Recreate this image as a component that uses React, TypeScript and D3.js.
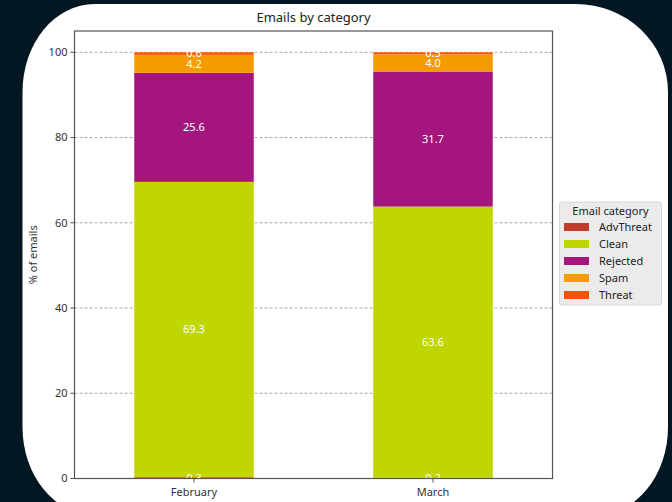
import React from "react";
import * as d3 from "d3";

const months = ["February", "March"];
const categories = ["AdvThreat", "Clean", "Rejected", "Spam", "Threat"];
const advThreat = [0.3, 0.2];
const clean = [69.3, 63.6];
const rejected = [25.6, 31.7];
const spam = [4.2, 4.0];
const threat = [0.6, 0.5];
const yTicks = [0, 20, 40, 60, 80, 100];
const colors = ["#c23b2a", "#bfd600", "#a5157e", "#f59b00", "#ff5200"];

const seriesValues = [advThreat, clean, rejected, spam, threat];

export default function App() {
  const W = 672, H = 502;
  const left = 74.5, right = 552.5, top = 31, bottom = 478.5;
  const font = "'Noto Sans', 'Open Sans', sans-serif";

  const x = d3.scaleLinear().domain([-0.5, 1.5]).range([left, right]);
  const y = d3.scaleLinear().domain([0, 105]).range([bottom, top]);
  const barW = 0.5;

  const rows = months.map((m, i) => {
    const r: any = { month: m };
    categories.forEach((c, k) => (r[c] = seriesValues[k][i]));
    return r;
  });
  const stack = d3.stack<any>().keys(categories)(rows);

  // rounded panel path
  const px0 = 22.5, px1 = 668, py0 = 4, py1 = 515;
  const rx = 72, ry = 88;
  const panel = `M${px0 + rx},${py0} L${px1 - rx - 20},${py0} A${rx + 20},${ry} 0 0 1 ${px1},${py0 + ry} L${px1},${py1 - ry} A${rx},${ry} 0 0 1 ${px1 - rx},${py1} L${px0 + rx},${py1} A${rx},${ry} 0 0 1 ${px0},${py1 - ry} L${px0},${py0 + ry} A${rx},${ry} 0 0 1 ${px0 + rx},${py0} Z`;

  return (
    <svg width={W} height={H} style={{ position: "absolute", left: 0, top: 0, display: "block" }} fontFamily={font}>
      <rect x={0} y={0} width={W} height={H} fill="#031722" />
      <path d={panel} fill="#ffffff" />
      <text x={(left + right) / 2} y={22} textAnchor="middle" fontSize={13} fill="#222">
        Emails by category
      </text>
      {/* grid */}
      {yTicks.map((t) => (
        <line key={"g" + t} x1={left} x2={right} y1={y(t)} y2={y(t)} stroke="#aaaaaa" strokeWidth={1} strokeDasharray="3,2" />
      ))}
      {/* bars */}
      {stack.map((s, k) =>
        s.map((d, i) => (
          <rect
            key={`${k}-${i}`}
            x={x(i - barW / 2)}
            width={x(barW) - x(0)}
            y={y(d[1])}
            height={y(d[0]) - y(d[1])}
            fill={colors[k]}
          />
        ))
      )}
      {/* bar labels */}
      {stack.map((s, k) =>
        s.map((d, i) => (
          <text
            key={`t${k}-${i}`}
            x={x(i)}
            y={y((d[0] + d[1]) / 2)}
            dy="0.35em"
            textAnchor="middle"
            fontSize={11}
            fill="#ffffff"
          >
            {seriesValues[k][i].toFixed(1)}
          </text>
        ))
      )}
      {/* frame */}
      <rect x={left} y={top} width={right - left} height={bottom - top} fill="none" stroke="#555" strokeWidth={1.2} />
      {/* y ticks */}
      {yTicks.map((t) => (
        <g key={"y" + t}>
          <line x1={left - 4} x2={left} y1={y(t)} y2={y(t)} stroke="#555" />
          <text x={left - 7} y={y(t)} dy="0.35em" textAnchor="end" fontSize={11} fill="#333">
            {t}
          </text>
        </g>
      ))}
      {/* x ticks */}
      {months.map((m, i) => (
        <g key={m}>
          <line x1={x(i)} x2={x(i)} y1={bottom} y2={bottom + 4} stroke="#555" />
          <text x={x(i)} y={bottom + 17} textAnchor="middle" fontSize={11} fill="#333">
            {m}
          </text>
        </g>
      ))}
      <text transform={`translate(37,${(top + bottom) / 2}) rotate(-90)`} textAnchor="middle" fontSize={11} fill="#333">
        % of emails
      </text>
      {/* legend */}
      <g>
        <rect x={559.5} y={202} width={102} height={103} rx={2} fill="#ebebeb" stroke="#d6d6d6" />
        <text x={610.5} y={215} textAnchor="middle" fontSize={11} fill="#222">
          Email category
        </text>
        {categories.map((c, k) => (
          <g key={c}>
            <rect x={564} y={223 + k * 17} width={25} height={8} fill={colors[k]} />
            <text x={599} y={227 + k * 17} dy="0.35em" fontSize={11} fill="#222">
              {c}
            </text>
          </g>
        ))}
      </g>
    </svg>
  );
}
